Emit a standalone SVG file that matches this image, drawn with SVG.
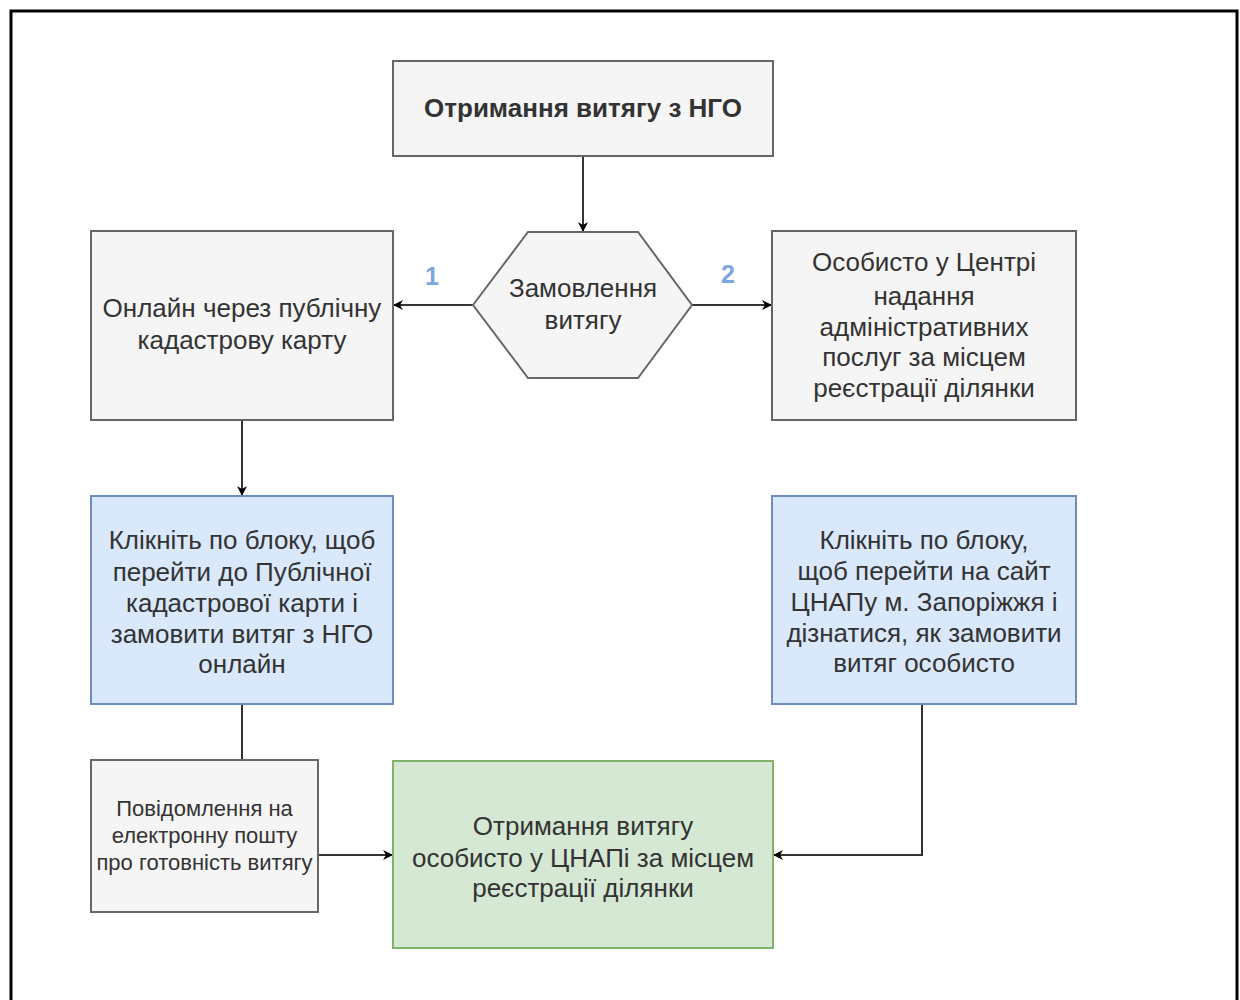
<svg xmlns="http://www.w3.org/2000/svg" width="1240" height="1000" viewBox="0 0 1240 1000">
<defs>
<marker id="arr" viewBox="0 0 10 10" refX="9" refY="5" markerWidth="10" markerHeight="10" markerUnits="userSpaceOnUse" orient="auto">
<path d="M0,0 L10,5 L0,10 L3,5 Z" fill="#000"/>
</marker>
</defs>
<style>
.grey{fill:#f5f5f5;stroke:#666666;stroke-width:2}
.blue{fill:#dae8fc;stroke:#6c8ebf;stroke-width:2}
.green{fill:#d5e8d4;stroke:#82b366;stroke-width:2}
.t{font-family:"Liberation Sans",Arial,sans-serif;font-size:26px;fill:#333333;text-anchor:middle}
.ts{font-family:"Liberation Sans",Arial,sans-serif;font-size:22px;fill:#333333;text-anchor:middle}
.tb{font-family:"Liberation Sans",Arial,sans-serif;font-size:26px;font-weight:bold;fill:#333333;text-anchor:middle}
.num{font-family:"Liberation Sans",Arial,sans-serif;font-size:25px;font-weight:bold;fill:#7ea6e0;text-anchor:middle}
.c{fill:none;stroke:#333333;stroke-width:2}
</style>
<rect x="0" y="0" width="1240" height="1000" fill="#ffffff"/>
<path d="M11,1000 L11,11 L1237,11 L1237,1000" fill="none" stroke="#000" stroke-width="3"/>

<g id="connectors">
<line class="c" x1="583" y1="156" x2="583" y2="231" marker-end="url(#arr)"/>
<line class="c" x1="473" y1="305" x2="394" y2="305" marker-end="url(#arr)"/>
<line class="c" x1="692" y1="305" x2="771" y2="305" marker-end="url(#arr)"/>
<line class="c" x1="242" y1="420" x2="242" y2="495" marker-end="url(#arr)"/>
<line class="c" x1="242" y1="704" x2="242" y2="760"/>
<line class="c" x1="318" y1="855" x2="392" y2="855" marker-end="url(#arr)"/>
<polyline class="c" points="922,704 922,855 774,855" marker-end="url(#arr)"/>
<text class="num" x="432" y="285">1</text>
<text class="num" x="728" y="283">2</text>
</g>

<g id="n-title">
<rect class="grey" x="393" y="61" width="380" height="95"/>
<text class="tb" x="583" y="117">Отримання витягу з НГО</text>
</g>

<g id="n-order">
<polygon class="grey" points="473,305 528,232 638,232 692,305 638,378 528,378"/>
<text class="t" x="583" y="297">Замовлення</text>
<text class="t" x="583" y="329">витягу</text>
</g>

<g id="n-online">
<rect class="grey" x="91" y="231" width="302" height="189"/>
<text class="t" x="242" y="317">Онлайн через публічну</text>
<text class="t" x="242" y="349">кадастрову карту</text>
</g>

<g id="n-person">
<rect class="grey" x="772" y="231" width="304" height="189"/>
<text class="t" x="924" y="271">Особисто у Центрі</text>
<text class="t" x="924" y="305">надання</text>
<text class="t" x="924" y="336">адміністративних</text>
<text class="t" x="924" y="366">послуг за місцем</text>
<text class="t" x="924" y="397">реєстрації ділянки</text>
</g>

<g id="n-link-online">
<rect class="blue" x="91" y="496" width="302" height="208"/>
<text class="t" x="242" y="549">Клікніть по блоку, щоб</text>
<text class="t" x="242" y="581">перейти до Публічної</text>
<text class="t" x="242" y="612">кадастрової карти і</text>
<text class="t" x="242" y="643">замовити витяг з НГО</text>
<text class="t" x="242" y="673">онлайн</text>
</g>

<g id="n-link-person">
<rect class="blue" x="772" y="496" width="304" height="208"/>
<text class="t" x="924" y="549">Клікніть по блоку,</text>
<text class="t" x="924" y="580">щоб перейти на сайт</text>
<text class="t" x="924" y="611">ЦНАПу м. Запоріжжя і</text>
<text class="t" x="924" y="642">дізнатися, як замовити</text>
<text class="t" x="924" y="672">витяг особисто</text>
</g>

<g id="n-email">
<rect class="grey" x="91" y="760" width="227" height="152"/>
<text class="ts" x="204.5" y="816">Повідомлення на</text>
<text class="ts" x="204.5" y="843">електронну пошту</text>
<text class="ts" x="204.5" y="870">про готовність витягу</text>
</g>

<g id="n-receive">
<rect class="green" x="393" y="761" width="380" height="187"/>
<text class="t" x="583" y="835">Отримання витягу</text>
<text class="t" x="583" y="867">особисто у ЦНАПі за місцем</text>
<text class="t" x="583" y="897">реєстрації ділянки</text>
</g>
</svg>
